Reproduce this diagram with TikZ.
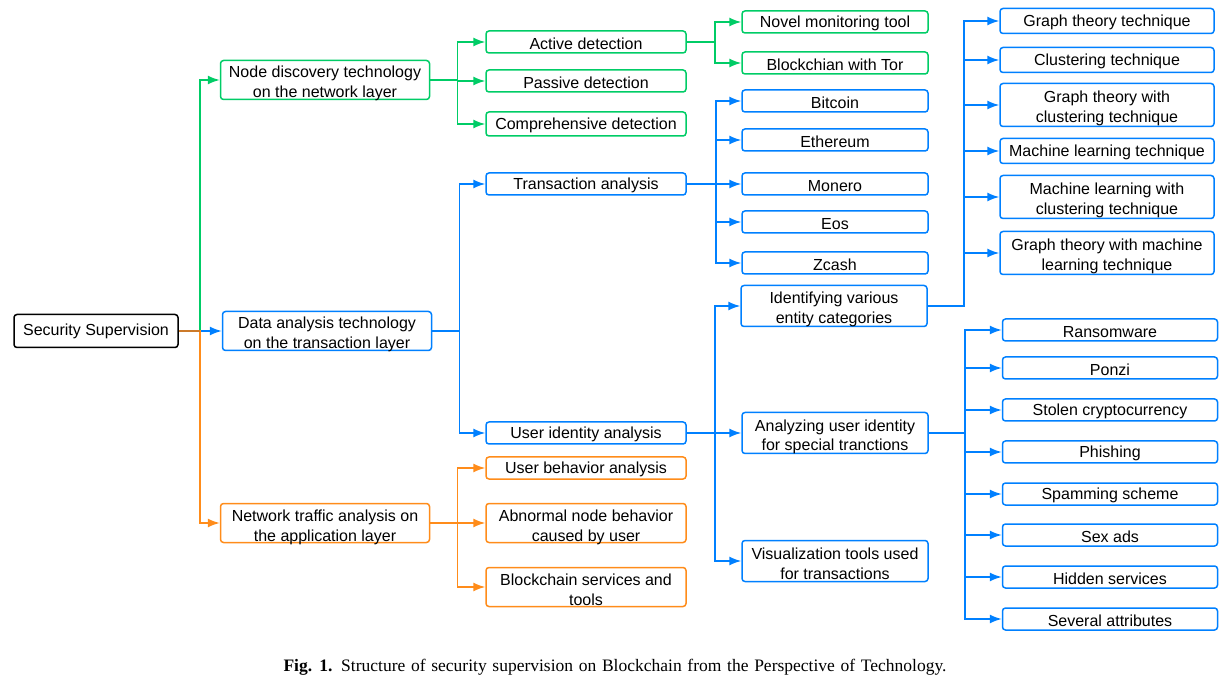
\documentclass[tikz,border=0pt]{standalone}
\usepackage{fontspec}
\setmainfont{Liberation Sans}
\newfontfamily\capfont{Liberation Serif}
\usepackage{tikz}
\usetikzlibrary{arrows.meta}
\definecolor{grn}{RGB}{0,204,102}
\definecolor{blu}{RGB}{0,128,255}
\definecolor{org}{RGB}{255,140,26}
\definecolor{brn}{RGB}{204,122,42}
\tikzset{
  box/.style={draw, rounded corners=3pt, line width=1.5pt, align=center, inner sep=0pt,
    text=black, font=\fontsize{16}{20}\selectfont, minimum height=22pt},
  low/.style={execute at begin node={\rule{0pt}{#1}}},
  low/.default=14.5pt,
  gbox/.style={box, low, draw=grn},
  bbox/.style={box, low, draw=blu},
  obox/.style={box, low, draw=org},
  two/.style={low=36pt, text depth=0pt},
  link/.style={line width=1.5pt, -{Latex[length=12pt,width=9pt]}},
}

\begin{document}
\begin{tikzpicture}[x=1pt,y=-1pt]
        \useasboundingbox (0,0) rectangle (1232,684);
        % root and first level
        \node [box, minimum width=164pt, minimum height=33pt] (root) at (96,331) {Security Supervision};
        \node [gbox, two, minimum width=209pt, minimum height=39pt] (nd) at (325,80) {Node discovery technology\\on the network layer};
        \node [bbox, two, minimum width=209pt, minimum height=39pt] (da) at (327,331) {Data analysis technology\\ on the transaction layer};
        \node [obox, two, minimum width=209pt, minimum height=39pt] (nt) at (325,523) {Network traffic analysis on\\the application layer};
        \draw [link, grn] (root.east) -- ++(21,0) |- (nd.west);
        \draw [link, blu] (root.east) -- ++(21,0) -- (da.west);
        \draw [link, org] (root.east) -- ++(21,0) |- (nt.west);
        \draw [line width=1.5pt, brn] (root.east) -- ++(21,0);

        % second level
        \node [gbox, minimum width=200pt] (ad) at (586,42) {Active detection};
        \node [gbox, minimum width=200pt] (pd) at (586,81) {Passive detection};
        \node [gbox, minimum width=200pt, minimum height=24pt] (cd) at (586,124) {Comprehensive detection};
        \node [bbox, minimum width=200pt] (ta) at (586,184) {Transaction analysis};
        \node [bbox, minimum width=200pt] (ua) at (586,433) {User identity analysis};
        \node [obox, minimum width=200pt] (ub) at (586,468) {User behavior analysis};
        \node [obox, two, minimum width=200pt, minimum height=39pt] (an) at (586,523) {Abnormal node behavior\\caused by user};
        \node [obox, two, minimum width=200pt, minimum height=39pt] (bs) at (586,587) {Blockchain services and\\tools};
        \foreach \c in {ad,pd,cd}
          \draw [link, grn] (nd.east) -- ++(27,0) |- (\c.west);
        \foreach \c in {ta,ua}
          \draw [link, blu] (da.east) -- ++(27,0) |- (\c.west);
        \foreach \c in {ub,an,bs}
          \draw [link, org] (nt.east) -- ++(27,0) |- (\c.west);

        % third level
        \node [gbox, minimum width=186pt] (nm) at (835,22) {Novel monitoring tool};
        \node [gbox, minimum width=186pt] (bt) at (835,63) {Blockchian with Tor};
        \node [bbox, minimum width=186pt] (btc) at (835,101) {Bitcoin};
        \node [bbox, minimum width=186pt] (eth) at (835,140) {Ethereum};
        \node [bbox, minimum width=186pt] (xmr) at (835,184) {Monero};
        \node [bbox, minimum width=186pt] (eos) at (835,222) {Eos};
        \node [bbox, minimum width=186pt] (zec) at (835,263) {Zcash};
        \node [bbox, two, minimum width=186pt, minimum height=41pt] (ie) at (834,306) {Identifying various\\ entity categories};
        \node [bbox, two, minimum width=186pt, minimum height=41pt] (au) at (835,433) {Analyzing user identity\\ for special tranctions};
        \node [bbox, two, minimum width=186pt, minimum height=41pt] (vt) at (835,561) {Visualization tools used\\ for transactions};
        \foreach \c in {nm,bt}
          \draw [link, grn] (ad.east) -- ++(28,0) |- (\c.west);
        \foreach \c in {btc,eth,xmr,eos,zec}
          \draw [link, blu] (ta.east) -- ++(29,0) |- (\c.west);
        \foreach \c in {ie,au,vt}
          \draw [link, blu] (ua.east) -- ++(28,0) |- (\c.west);

        % fourth level
        \node [bbox, minimum width=214pt, minimum height=25pt] (gt) at (1107,21) {Graph theory technique};
        \node [bbox, minimum width=214pt, minimum height=25pt] (ct) at (1107,60) {Clustering technique};
        \node [bbox, two, minimum width=214pt, minimum height=43pt] (gc) at (1107,105) {Graph theory with\\ clustering technique};
        \node [bbox, minimum width=214pt, minimum height=25pt] (ml) at (1107,151) {Machine learning technique};
        \node [bbox, two, minimum width=214pt, minimum height=43pt] (mc) at (1107,197) {Machine learning with\\ clustering technique};
        \node [bbox, two, minimum width=214pt, minimum height=43pt] (gm) at (1107,253) {Graph theory with machine\\ learning technique};
        \foreach \c in {gt,ct,gc,ml,mc,gm}
          \draw [link, blu] (ie.east) -- ++(36,0) |- (\c.west);

        \node [bbox, minimum width=215pt] (rw) at (1110,330) {Ransomware};
        \node [bbox, minimum width=215pt] (pz) at (1110,368) {Ponzi};
        \node [bbox, minimum width=215pt] (sc) at (1110,410) {Stolen cryptocurrency};
        \node [bbox, minimum width=215pt] (ph) at (1110,452) {Phishing};
        \node [bbox, minimum width=215pt] (sp) at (1110,494) {Spamming scheme};
        \node [bbox, minimum width=215pt] (sa) at (1110,535) {Sex ads};
        \node [bbox, minimum width=215pt] (hs) at (1110,577) {Hidden services};
        \node [bbox, minimum width=215pt] (sv) at (1110,619) {Several attributes};
        \foreach \c in {rw,pz,sc,ph,sp,sa,hs,sv}
          \draw [link, blu] (au.east) -- ++(36,0) |- (\c.west);

        % caption
        \node [font=\capfont\fontsize{17.5}{20}\selectfont] (cap) at (615,667)
          {\spaceskip=5.7pt plus 1pt\textbf{Fig. 1.}\enspace Structure of security supervision on Blockchain from the Perspective of Technology.};
\end{tikzpicture}
\end{document}
